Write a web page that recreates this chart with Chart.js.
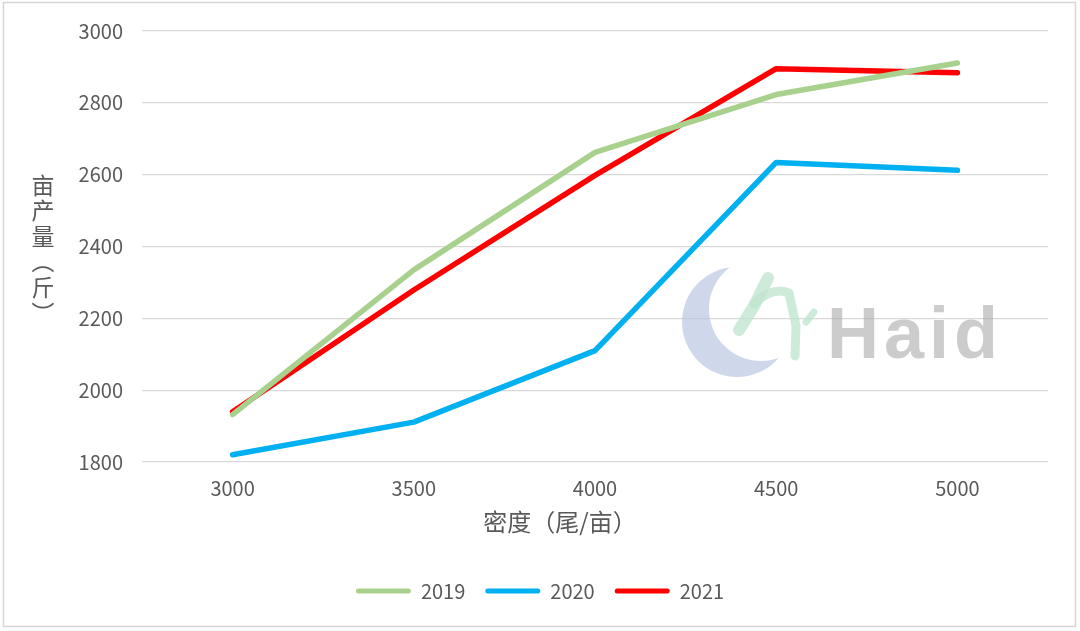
<!DOCTYPE html>
<html>
<head>
<meta charset="utf-8">
<script src="https://cdn.jsdelivr.net/npm/chart.js@4/dist/chart.umd.min.js"></script>
<style>
  html, body { margin: 0; padding: 0; background: #fff; }
  #wrap { width: 1080px; height: 631px; }
</style>
</head>
<body>
<div id="wrap"><canvas id="c"></canvas></div>
<script>
const categories = ["3000", "3500", "4000", "4500", "5000"];
const yield2019 = [1932, 2335, 2662, 2823, 2911];
const yield2020 = [1820, 1911, 2110, 2634, 2612];
const yield2021 = [1940, 2279, 2598, 2895, 2884];
const yTicks = [1800, 2000, 2200, 2400, 2600, 2800, 3000];
const seriesNames = ["2019", "2020", "2021"];
const xTitle = "密度（尾/亩）";
const yTitle = "亩产量（斤）";

const TEXT = "#595959";
const CJK = '"Noto Sans CJK SC", "Noto Sans", sans-serif';

// outer frame of the picture
const framePlugin = {
  id: "frame",
  afterDraw(chart) {
    const ctx = chart.ctx;
    ctx.save();
    ctx.strokeStyle = "#d6d6d6";
    ctx.lineWidth = 1.5;
    ctx.strokeRect(3.5, 2.5, 1072, 624);
    ctx.restore();
  },
};

// axis titles (the y one is stacked vertically, one char per line)
const titlePlugin = {
  id: "titles",
  afterDraw(chart) {
    const ctx = chart.ctx;
    ctx.save();
    ctx.fillStyle = TEXT;
    ctx.textAlign = "center";
    ctx.textBaseline = "middle";
    ctx.font = "24px " + CJK;
    ctx.fillText(xTitle, 560, 522);

    ctx.font = "23px " + CJK;
    [...yTitle].forEach((ch, i) => {
      const y = 185 + i * 25.6;
      if (ch === "（" || ch === "）") {
        ctx.save();
        ctx.translate(43, y);
        ctx.rotate(Math.PI / 2);
        ctx.fillText(ch, 0, 0);
        ctx.restore();
      } else {
        ctx.fillText(ch, 43, y);
      }
    });
    ctx.restore();
  },
};

// faint logo behind the lines
const watermarkPlugin = {
  id: "watermark",
  beforeDatasetsDraw(chart) {
    const ctx = chart.ctx;
    ctx.save();
    ctx.beginPath();
    ctx.arc(737, 322, 55, 0, Math.PI * 2);
    ctx.clip();
    ctx.beginPath();
    ctx.rect(600, 200, 300, 250);
    ctx.arc(761, 309, 52, 0, Math.PI * 2);
    ctx.fillStyle = "rgba(186,200,226,0.7)";
    ctx.fill("evenodd");
    ctx.restore();

    ctx.save();
    ctx.strokeStyle = "rgba(190,228,204,0.75)";
    ctx.lineCap = "round";
    ctx.lineJoin = "round";
    ctx.lineWidth = 12;
    ctx.beginPath();
    ctx.moveTo(739, 330);
    ctx.lineTo(754, 306);
    ctx.lineTo(768, 278);
    ctx.stroke();
    ctx.lineWidth = 9;
    ctx.beginPath();
    ctx.moveTo(754, 304);
    ctx.quadraticCurveTo(772, 286, 789, 293);
    ctx.lineTo(796, 326);
    ctx.lineTo(795, 356);
    ctx.stroke();
    ctx.lineWidth = 7;
    ctx.beginPath();
    ctx.moveTo(806, 322);
    ctx.lineTo(814, 312);
    ctx.stroke();
    ctx.restore();

    ctx.save();
    ctx.font = 'bold 72px "Liberation Sans", Arial, sans-serif';
    ctx.letterSpacing = "5px";
    ctx.fillStyle = "rgba(170,170,170,0.6)";
    ctx.textBaseline = "alphabetic";
    ctx.fillText("Haid", 827, 358);
    ctx.restore();
  },
};

new Chart(document.getElementById("c"), {
  type: "line",
  data: {
    labels: categories,
    datasets: [
      { label: seriesNames[0], data: yield2019, borderColor: "#a9d18e", backgroundColor: "#a9d18e" },
      { label: seriesNames[1], data: yield2020, borderColor: "#00b0f0", backgroundColor: "#00b0f0" },
      { label: seriesNames[2], data: yield2021, borderColor: "#ff0000", backgroundColor: "#ff0000" },
    ],
  },
  options: {
    responsive: true,
    maintainAspectRatio: false,
    animation: false,
    layout: { padding: { top: 30, left: 0, right: 0, bottom: 20 } },
    elements: {
      line: { borderWidth: 5.5, tension: 0, borderCapStyle: "round", borderJoinStyle: "round" },
      point: { radius: 0, hoverRadius: 0 },
    },
    scales: {
      x: {
        offset: true,
        grid: { display: false },
        border: { display: false },
        ticks: { color: TEXT, font: { family: CJK, size: 20 }, padding: 6 },
        afterFit: (s) => { s.height = 99; },
      },
      y: {
        min: 1800,
        max: 3000,
        grid: { color: "#d9d9d9", lineWidth: 1.3, drawTicks: false },
        border: { display: false },
        ticks: {
          color: TEXT,
          font: { family: CJK, size: 20 },
          padding: 19,
          callback: (v) => String(v),
        },
        afterBuildTicks: (s) => { s.ticks = yTicks.map((v) => ({ value: v })); },
        afterFit: (s) => { s.width = 142; },
      },
      yR: {
        position: "right",
        grid: { display: false },
        border: { display: false },
        ticks: { display: false },
        afterFit: (s) => { s.width = 32; },
      },
    },
    plugins: {
      tooltip: { enabled: false },
      legend: {
        position: "bottom",
        labels: {
          boxWidth: 55,
          boxHeight: 5,
          padding: 20,
          color: TEXT,
          font: { family: CJK, size: 20 },
          useBorderRadius: true,
          borderRadius: 2.5,
          generateLabels: (chart) =>
            chart.data.datasets.map((ds, i) => ({
              text: ds.label,
              fillStyle: ds.borderColor,
              strokeStyle: ds.borderColor,
              lineWidth: 0,
              hidden: false,
              datasetIndex: i,
              fontColor: TEXT,
              borderRadius: 2.5,
            })),
        },
      },
    },
  },
  plugins: [watermarkPlugin, titlePlugin, framePlugin],
});
</script>
</body>
</html>
